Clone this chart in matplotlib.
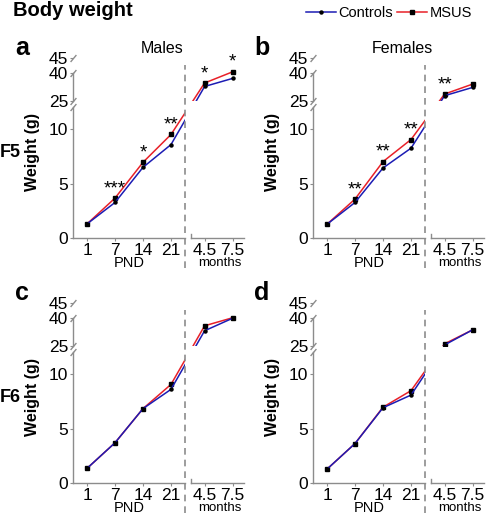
import numpy as np
import matplotlib.pyplot as plt

plt.rcParams['font.family'] = ['Liberation Sans', 'DejaVu Sans']

pnd_labels = ['1', '7', '14', '21']
month_labels = ['4.5', '7.5']

# weights (g): PND 1, 7, 14, 21, then 4.5 and 7.5 months
a_ctrl = [1.31, 3.27, 6.48, 8.56, 32.7, 37.1]
a_msus = [1.31, 3.67, 6.94, 9.48, 34.6, 40.4]
b_ctrl = [1.28, 3.27, 6.42, 8.23, 27.7, 32.2]
b_msus = [1.28, 3.58, 7.00, 9.02, 28.6, 34.0]
c_ctrl = [1.36, 3.70, 6.82, 8.58, 33.1, 39.9]
c_msus = [1.36, 3.70, 6.82, 9.03, 35.8, 40.1]
d_ctrl = [1.29, 3.63, 6.90, 8.06, 25.4, 33.6]
d_msus = [1.29, 3.63, 6.95, 8.46, 26.0, 33.6]

a_stars = ['', '***', '*', '**', '*', '*']
b_stars = ['', '**', '**', '**', '**', '']
no_stars = [''] * 6

BLUE = '#1c1cb4'
RED = '#e82028'
GREY = '#8c8c8c'

W, H = 488, 515
K = 10.95    # px per unit on the lower axis
XU = 28.0    # px per category step

# broken y axis: 0-12 linear, then 25 / 40 / 45 squeezed
kv = [-100, 0, 12, 25, 40, 45, 200]
ku = [-100, 0, 12, 12.57, 15.09, 16.51, 16.51 + 155 * 1.42 / 5]


def fwd(v):
    return np.interp(v, kv, ku)


def inv(u):
    return np.interp(u, ku, kv)


def box(left, bottom, width, height):
    return [left / W, 1 - bottom / H, width / W, height / H]


fig = plt.figure(figsize=(W / 100, H / 100), dpi=100)

xpos = [0, 1, 2, 3, 4.2, 5.2]
LO_TOP = 11.95
UP_BOT, UP_TOP = 12.5, 16.75


def brk(ax, vals):
    ax.plot([0] * len(vals), vals, transform=ax.get_yaxis_transform(),
            marker=[(-1, -1.2), (1, 1.2)], ms=5, ls='none', color=GREY,
            mec=GREY, mew=1, clip_on=False)


def panel(xs, y0, ctrl, msus, stars, letter, title, row):
    hL = LO_TOP * K
    axL = fig.add_axes(box(xs, y0, 4 * XU, hL))
    axR = fig.add_axes(box(xs + 4.21 * XU, y0, 1.89 * XU, hL))
    axU = fig.add_axes(box(xs, y0 - UP_BOT * K, 6.1 * XU, (UP_TOP - UP_BOT) * K))
    for ax in (axL, axR, axU):
        ax.set_yscale('function', functions=(fwd, inv))
        ax.patch.set_visible(False)
        for s in ax.spines.values():
            s.set_color(GREY)
            s.set_linewidth(1)
        ax.spines['top'].set_visible(False)
        ax.spines['right'].set_visible(False)
        ax.tick_params(length=2, color=GREY, labelsize=12.5, pad=1.5)
    axL.set_xlim(-0.5, 3.5)
    axL.set_ylim(0, LO_TOP)
    axR.set_xlim(3.71, 5.6)
    axR.set_ylim(0, LO_TOP)
    axU.set_xlim(-0.5, 5.6)
    axU.set_ylim(inv(UP_BOT), inv(UP_TOP))

    axL.set_xticks(xpos[:4], pnd_labels)
    axL.set_yticks([0, 5, 10])
    axR.set_xticks(xpos[4:], month_labels)
    axR.set_yticks([])
    axR.spines['left'].set_bounds(0, 0.4)
    axU.set_xticks([])
    axU.set_yticks([25, 40, 45])
    axU.spines['bottom'].set_visible(False)
    axU.spines['left'].set_bounds(25, 40)
    brk(axU, [25, 40, 45])
    brk(axL, [LO_TOP])

    for ax in (axL, axU):
        ax.plot(xpos, msus, color=RED, lw=1.1, marker='s', ms=2.2,
                mfc='k', mec='k', label='MSUS')
        ax.plot(xpos, ctrl, color=BLUE, lw=1.1, marker='o', ms=2.2,
                mfc='k', mec='k', label='Controls')

    for i, s in enumerate(stars):
        if not s:
            continue
        ax = axL if i < 4 else axU
        ax.annotate(s, (xpos[i], max(ctrl[i], msus[i])), xytext=(0, 5),
                    textcoords='offset pixels', ha='center', va='baseline',
                    fontsize=13.5)

    axL.axvline(3.5, ymin=-30 / hL, ymax=173 / hL, clip_on=False,
                color=GREY, lw=1.2, ls=(0, (4, 3)))

    axL.set_xlabel('PND', fontsize=10.5)
    axL.xaxis.set_label_coords(0.5, -25 / hL)
    axL.xaxis.label.set_va('center')
    axR.set_xlabel('months', fontsize=9.5)
    axR.xaxis.set_label_coords(0.55, -24.5 / hL)
    axR.xaxis.label.set_va('center')
    axL.set_ylabel('Weight (g)', fontsize=11.5, fontweight='bold')
    axL.yaxis.set_label_coords(-0.295, 0.66)

    fig.text((xs - 51) / W, 1 - (y0 - 190) / H, letter, fontsize=18,
             fontweight='bold', ha='center', va='center')
    if title:
        fig.text((xs + 89) / W, 1 - (y0 - 190) / H, title, fontsize=11.5,
                 ha='center', va='center')
    if row:
        fig.text(10.5 / W, 1 - (y0 - 86) / H, row, fontsize=13,
                 fontweight='bold', ha='center', va='center')
    return axL


axa = panel(73, 238.3, a_ctrl, a_msus, a_stars, 'a', 'Males', 'F5')
panel(313, 238.3, b_ctrl, b_msus, b_stars, 'b', 'Females', None)
panel(73, 483.3, c_ctrl, c_msus, no_stars, 'c', None, 'F6')
panel(313, 483.3, d_ctrl, d_msus, no_stars, 'd', None, None)

fig.text(13 / W, 1 - 10 / H, 'Body weight', fontsize=14.5, fontweight='bold',
         ha='left', va='center')

h, l = axa.get_legend_handles_labels()
fig.legend(h[::-1], l[::-1], loc='upper right', bbox_to_anchor=(0.985, 1.005),
           ncol=2, frameon=False, fontsize=10.5, handlelength=2.0,
           handletextpad=0.2, columnspacing=0.3, borderaxespad=0.2)

fig.savefig('out.png', dpi=100)
